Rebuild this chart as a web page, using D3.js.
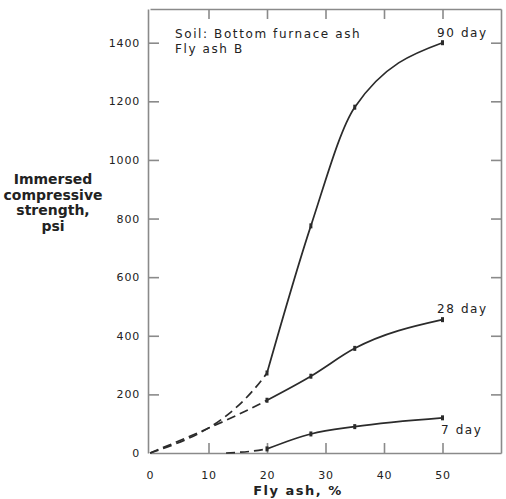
<!DOCTYPE html>
<html>
<head>
<meta charset="utf-8">
<script src="https://cdn.jsdelivr.net/npm/d3@7"></script>
<style>
  body { margin: 0; background: #fff; }
  svg text { font-family: "DejaVu Sans", sans-serif; fill: #222; }
</style>
</head>
<body>
<div id="container"></div>
<script>
/* CONSTANTS AND GLOBALS */
const width = 506, height = 499;
const margin = { top: 9, bottom: 46, left: 150, right: 5 };

/* DATA */
const flyAsh = [0, 20, 27.5, 35, 50];         // % fly ash (90 and 28 day)
const day90 = [0, 273, 775, 1180, 1400];       // psi
const day28 = [0, 180, 262, 357, 455];         // psi
const flyAsh7 = [13, 20, 27.5, 35, 50];        // 7 day curve starts later
const day7 = [0, 14, 65, 90, 120];             // psi
const yTicks = [0, 200, 400, 600, 800, 1000, 1200, 1400];
const xTicks = [0, 10, 20, 30, 40, 50];
const dashedUntil = 20; // curves are dashed below 20% fly ash

const series = [
  { name: "90 day", x: flyAsh, y: day90 },
  { name: "28 day", x: flyAsh, y: day28 },
  { name: "7 day", x: flyAsh7, y: day7 }
];

/* SCALES */
const xScale = d3.scaleLinear()
  .domain([0, 60])
  .range([margin.left, width - margin.right]);

const yScale = d3.scaleLinear()
  .domain([0, 1515])
  .range([height - margin.bottom, margin.top]);

const svg = d3.select("#container")
  .append("svg")
  .attr("width", width)
  .attr("height", height);

/* AXES - ticks point into the plot on all four sides */
const axisColor = "#8a8a8a";

const gLeft = svg.append("g")
  .attr("transform", `translate(${xScale(0) - 2}, 0)`)
  .call(d3.axisLeft(yScale).tickValues(yTicks).tickSizeInner(-11).tickSizeOuter(0).tickPadding(8).tickFormat(d3.format("d")));

const gBottom = svg.append("g")
  .attr("transform", `translate(0, ${yScale(0)})`)
  .call(d3.axisBottom(xScale).tickValues(xTicks).tickSizeInner(-10).tickSizeOuter(0).tickPadding(18));

const gTop = svg.append("g")
  .attr("transform", `translate(0, ${margin.top})`)
  .call(d3.axisTop(xScale).tickValues(xTicks.slice(1)).tickSizeInner(-10).tickSizeOuter(0).tickFormat(""));

const gRight = svg.append("g")
  .attr("transform", `translate(${width - margin.right}, 0)`)
  .call(d3.axisRight(yScale).tickValues(yTicks.slice(1)).tickSizeInner(-10).tickSizeOuter(0).tickFormat(""));

svg.selectAll(".domain, .tick line")
  .attr("stroke", axisColor)
  .attr("stroke-width", 1.6);

// the 0 ticks sit on the other axis, hide their lines
gBottom.selectAll(".tick").filter(d => d === 0).select("line").remove();
gLeft.selectAll(".tick").filter(d => d === 0).select("line").remove();

svg.selectAll(".tick text")
  .style("font-size", "11px")
  .style("letter-spacing", "0.8px")
  .attr("fill", "#333");

/* CURVES
   dashed part: smooth curve through all points, clipped to x < 20
   solid part: its own smooth curve from 20 onward (kink at 20 like the original) */
const defs = svg.append("defs");
defs.append("clipPath").attr("id", "clip-dash")
  .append("rect")
  .attr("x", 0).attr("y", 0)
  .attr("width", xScale(dashedUntil)).attr("height", height);

const line = d3.line()
  .x(d => xScale(d[0]))
  .y(d => yScale(d[1]))
  .curve(d3.curveMonotoneX);

const lineColor = "#2b2b2b";

series.forEach(s => {
  const pts = s.x.map((x, i) => [x, s.y[i]]);

  svg.append("path")
    .datum(pts)
    .attr("d", line)
    .attr("fill", "none")
    .attr("stroke", lineColor)
    .attr("stroke-width", 1.7)
    .attr("stroke-dasharray", "9,5")
    .attr("clip-path", "url(#clip-dash)");

  svg.append("path")
    .datum(pts.filter(d => d[0] >= dashedUntil))
    .attr("d", line)
    .attr("fill", "none")
    .attr("stroke", lineColor)
    .attr("stroke-width", 1.7);

  // little tick marks at each measured point (skip the starting point)
  svg.selectAll(null)
    .data(pts.slice(1))
    .join("rect")
    .attr("x", d => xScale(d[0]) - 1.5)
    .attr("y", d => yScale(d[1]) - 2.5)
    .attr("width", 3)
    .attr("height", 5)
    .attr("fill", lineColor);
});

/* LABELS */
const curveLabels = [
  { text: "90 day", x: 437, y: 37 },
  { text: "28 day", x: 437, y: 313 },
  { text: "7 day", x: 441, y: 434 }
];
svg.selectAll(".curve-label")
  .data(curveLabels)
  .join("text")
  .attr("class", "curve-label")
  .attr("x", d => d.x)
  .attr("y", d => d.y)
  .style("font-size", "12px")
  .style("letter-spacing", "1.6px")
  .text(d => d.text);

svg.append("text")
  .attr("x", 175).attr("y", 38)
  .style("font-size", "12px")
  .style("letter-spacing", "1.6px")
  .text("Soil: Bottom furnace ash");
svg.append("text")
  .attr("x", 175).attr("y", 53)
  .style("font-size", "12px")
  .style("letter-spacing", "1.6px")
  .text("Fly ash B");

// x axis title
svg.append("text")
  .attr("x", 298).attr("y", 495)
  .attr("text-anchor", "middle")
  .style("font-size", "13px")
  .style("font-weight", "bold")
  .style("letter-spacing", "1.5px")
  .text("Fly ash, %");

// y axis title, stacked lines
const yTitle = ["Immersed", "compressive", "strength,", "psi"];
svg.selectAll(".y-title")
  .data(yTitle)
  .join("text")
  .attr("class", "y-title")
  .attr("x", 53)
  .attr("y", (d, i) => 184 + i * 15.5)
  .attr("text-anchor", "middle")
  .style("font-size", "14px")
  .style("font-weight", "bold")
  .text(d => d);
</script>
</body>
</html>
